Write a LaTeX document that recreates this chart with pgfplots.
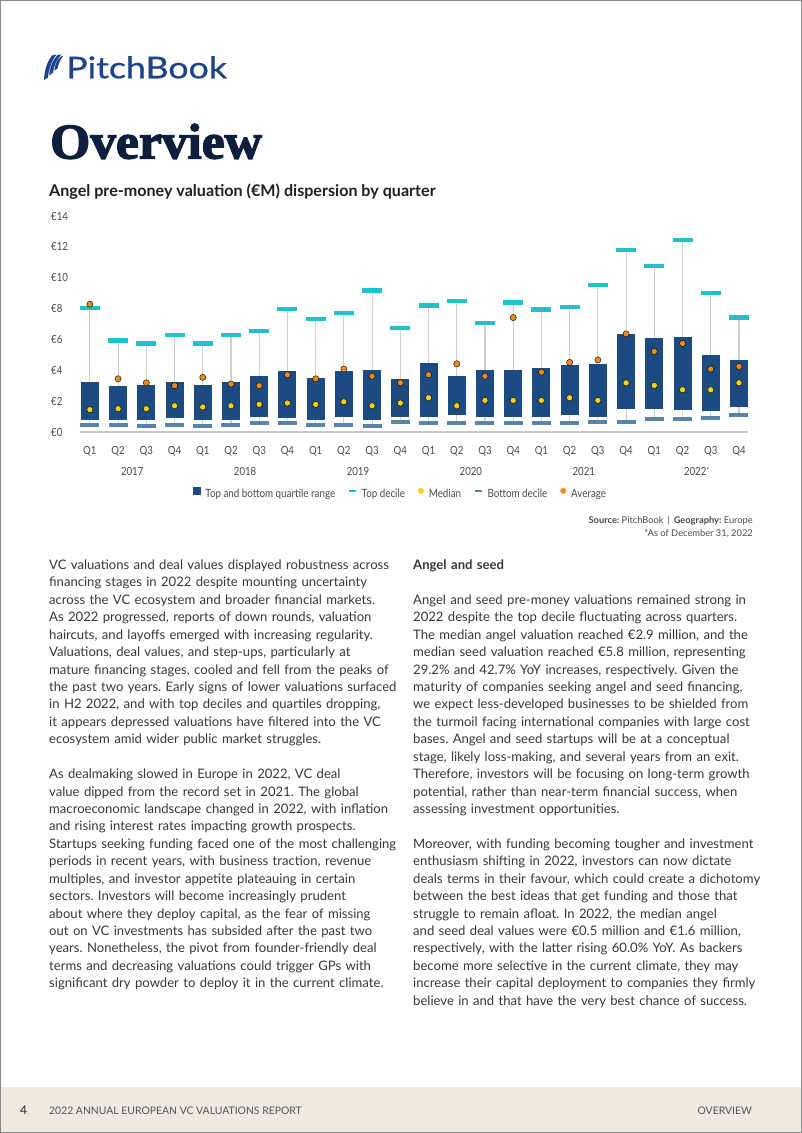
\documentclass[border=0pt]{standalone}
\usepackage{pgfplots}
\pgfplotsset{compat=1.18}
\usepackage{pgfplotstable}
\usepackage{fontspec}
\setmainfont{Lato}
\newfontfamily\cond{Lato}[FakeStretch=0.86]
\newfontfamily\logofont{Lato}[FakeBold=0.6]
\newfontfamily\headserif{Liberation Serif}[BoldFeatures={FakeBold=2.6}]
\definecolor{boxblue}{HTML}{1C4B82}
\definecolor{topc}{HTML}{22BFCC}
\definecolor{medc}{HTML}{F6CF16}
\definecolor{botc}{HTML}{5A83AA}
\definecolor{avgc}{HTML}{EE8A1D}
\definecolor{whisk}{HTML}{CFCFCF}
\definecolor{axisgray}{HTML}{C8C8C8}
\definecolor{labgray}{HTML}{4A4A4A}
\definecolor{bodytext}{HTML}{383838}
\definecolor{navy}{HTML}{0D1F3C}
\definecolor{logoblue}{HTML}{1D4489}
\definecolor{footbg}{HTML}{EFE9E0}
\definecolor{footgray}{HTML}{555555}
\definecolor{bordergray}{HTML}{8A8A8A}

\pgfplotstableread{
x bdec q1 med q3 tdec avg
0 0.47 0.80 1.45 3.24 8.02 8.28
1 0.47 0.80 1.51 2.96 5.93 3.45
2 0.39 0.80 1.51 3.06 5.74 3.19
3 0.47 0.91 1.70 3.24 6.28 3.00
4 0.39 0.80 1.62 3.06 5.74 3.54
5 0.47 0.80 1.70 3.24 6.28 3.11
6 0.58 0.99 1.79 3.60 6.56 3.00
7 0.58 0.91 1.88 3.93 7.96 3.71
8 0.47 0.80 1.79 3.49 7.33 3.45
9 0.47 0.99 1.96 3.93 7.70 4.08
10 0.39 0.80 1.70 4.03 9.17 3.62
11 0.67 0.99 1.88 3.41 6.73 3.19
12 0.58 0.99 2.22 4.47 8.20 3.71
13 0.58 1.08 1.70 3.60 8.48 4.42
14 0.58 0.99 2.05 4.03 7.05 3.62
15 0.58 0.99 2.05 4.03 8.39 7.42
16 0.58 0.99 2.05 4.12 7.94 3.88
17 0.58 1.08 2.22 4.34 8.11 4.51
18 0.67 0.99 2.05 4.40 9.53 4.68
19 0.67 1.51 3.19 6.32 11.82 6.36
20 0.84 1.51 3.02 6.08 10.76 5.22
21 0.84 1.42 2.74 6.17 12.42 5.74
22 0.93 1.34 2.74 5.00 8.99 4.08
23 1.08 1.60 3.19 4.66 7.42 4.25
}\data

\begin{document}
\frenchspacing
\begin{tikzpicture}[x=1pt,y=1pt]
\path[use as bounding box] (0,0) rectangle (802,-1133);
\fill[white] (0,0) rectangle (802,-1133);
\fill[footbg] (0,-1087) rectangle (802,-1133);
\draw[bordergray, line width=1.2pt] (0.6,-0.6) rectangle (801.4,-1132.4);

% logo
\fill[logoblue] (44,-80) .. controls (44.5,-70) and (47,-62) .. (52,-55.5) -- (56.5,-54.5) .. controls (51.5,-61) and (48.8,-69) .. (48,-77.5) -- cycle;
\fill[logoblue] (49.2,-75.5) .. controls (49.8,-67) and (52.5,-60.5) .. (57.5,-55) -- (61.5,-54.5) .. controls (56.5,-60) and (53.8,-66) .. (53,-72.5) -- cycle;
\fill[logoblue] (54.2,-70.5) .. controls (55,-64) and (57.5,-59) .. (61.8,-56) -- (63,-56) .. controls (60,-60) and (58.5,-64) .. (57.5,-68.5) -- cycle;
\node[anchor=base west, inner sep=0pt, text=logoblue, font=\logofont\fontsize{30}{30}\selectfont, xscale=1.19] at (66,-78.3) {PitchBook};

% title
\node[anchor=base west, inner sep=0pt, text=navy, font=\headserif\bfseries\fontsize{50}{50}\selectfont, xscale=1.03] at (50,-158.5) {Overview};
\node[anchor=base west, inner sep=0pt, text=black!88, font=\bfseries\fontsize{16.1}{18}\selectfont] at (49,-196.5) {Angel pre-money valuation (€M) dispersion by quarter};

\begin{axis}[
  at={(80pt,-432pt)}, anchor=south west,
  scale only axis, width=668pt, height=216pt,
  xmin=-0.35, xmax=23.32, ymin=0, ymax=14,
  clip=false,
  axis x line*=bottom, axis y line*=left,
  y axis line style={draw=none},
  x axis line style={draw=axisgray, line width=1.5pt},
  major tick length=0pt,
  ytick={0,2,4,6,8,10,12,14},
  yticklabels={€0,€2,€4,€6,€8,€10,€12,€14},
  yticklabel style={anchor=west, inner sep=0pt, xshift=-29pt, font=\cond\fontsize{11.2}{12}\selectfont, text=labgray},
  xtick={0,...,23},
  xticklabels={Q1,Q2,Q3,Q4,Q1,Q2,Q3,Q4,Q1,Q2,Q3,Q4,Q1,Q2,Q3,Q4,Q1,Q2,Q3,Q4,Q1,Q2,Q3,Q4},
  xticklabel style={anchor=north, inner sep=0pt, yshift=-14pt, font=\cond\fontsize{11.2}{12}\selectfont, text=labgray},
  legend columns=5,
  legend cell align=left,
  legend style={at={(axis description cs:0.4795,-0.287)}, anchor=center, draw=none, fill=none,
    font=\cond\fontsize{11.4}{12}\selectfont, text=labgray,
    /tikz/every odd column/.append style={column sep=3pt},
    /tikz/every even column/.append style={column sep=11pt}},
]
% whiskers
\addplot[draw=none, mark=none, forget plot,
  error bars/.cd, y dir=both, y explicit, error mark=none,
  error bar style={draw=whisk, line width=1.1pt}]
  table[x=x, y=q1, y error plus expr=\thisrow{tdec}-\thisrow{q1}, y error minus expr=\thisrow{q1}-\thisrow{bdec}] {\data};
% quartile boxes
\addplot[draw=none, mark=none, forget plot,
  error bars/.cd, y dir=plus, y explicit, error mark=none,
  error bar style={draw=boxblue, line width=18pt}]
  table[x=x, y=q1, y error plus expr=\thisrow{q3}-\thisrow{q1}] {\data};
% top decile
\addplot[only marks, forget plot, mark=-, mark size=10pt, mark options={draw=topc, line width=4.2pt}]
  table[x=x, y=tdec] {\data};
% bottom decile
\addplot[only marks, forget plot, mark=-, mark size=9.5pt, mark options={draw=botc, line width=4.2pt}]
  table[x=x, y=bdec] {\data};
% median
\addplot[only marks, forget plot, mark=*, mark size=3.1pt, mark options={fill=medc, draw=none}]
  table[x=x, y=med] {\data};
% average
\addplot[only marks, forget plot, mark=*, mark size=3.1pt, mark options={fill=avgc, draw=none}]
  table[x=x, y=avg] {\data};

\addlegendimage{legend image code/.code={\fill[boxblue] (0pt,-0.5pt) rectangle (7.5pt,7pt);}}
\addlegendentry{Top and bottom quartile range}
\addlegendimage{legend image code/.code={\draw[topc, line width=2pt] (0pt,3.2pt) -- (6.5pt,3.2pt);}}
\addlegendentry{Top decile}
\addlegendimage{legend image code/.code={\fill[medc] (3.5pt,3.2pt) circle (2.7pt);}}
\addlegendentry{Median}
\addlegendimage{legend image code/.code={\draw[botc, line width=2pt] (0pt,3.2pt) -- (6.5pt,3.2pt);}}
\addlegendentry{Bottom decile}
\addlegendimage{legend image code/.code={\fill[avgc] (3.5pt,3.2pt) circle (2.7pt);}}
\addlegendentry{Average}

\node[font=\cond\fontsize{11.2}{12}\selectfont, text=labgray, yshift=-39pt] at (axis cs:1.5,0) {2017};
\node[font=\cond\fontsize{11.2}{12}\selectfont, text=labgray, yshift=-39pt] at (axis cs:5.5,0) {2018};
\node[font=\cond\fontsize{11.2}{12}\selectfont, text=labgray, yshift=-39pt] at (axis cs:9.5,0) {2019};
\node[font=\cond\fontsize{11.2}{12}\selectfont, text=labgray, yshift=-39pt] at (axis cs:13.5,0) {2020};
\node[font=\cond\fontsize{11.2}{12}\selectfont, text=labgray, yshift=-39pt] at (axis cs:17.5,0) {2021};
\node[font=\cond\fontsize{11.2}{12}\selectfont, text=labgray, yshift=-39pt] at (axis cs:21.5,0) {2022{\fontsize{8}{8}\selectfont\raisebox{1.5pt}{*}}};
\end{axis}

% source
\node[anchor=base east, inner sep=0pt, text=labgray, font=\fontsize{9.3}{11}\selectfont] at (753,-523.8) {\textbf{Source:} PitchBook \,|\, \textbf{Geography:} Europe};
\node[anchor=base east, inner sep=0pt, text=labgray, font=\fontsize{9.3}{11}\selectfont] at (753,-536) {*As of December 31, 2022};

% body text
\node[anchor=base west, inner sep=0pt, text width=400pt, align=left, text=bodytext, font=\fontsize{13.1}{17.43}\selectfont] at (49,-569.5) {%
VC valuations and deal values displayed robustness across\\
financing stages in 2022 despite mounting uncertainty\\
across the VC ecosystem and broader financial markets.\\
As 2022 progressed, reports of down rounds, valuation\\
haircuts, and layoffs emerged with increasing regularity.\\
Valuations, deal values, and step-ups, particularly at\\
mature financing stages, cooled and fell from the peaks of\\
the past two years. Early signs of lower valuations surfaced\\
in H2 2022, and with top deciles and quartiles dropping,\\
it appears depressed valuations have filtered into the VC\\
ecosystem amid wider public market struggles.\\[17.43pt]
As dealmaking slowed in Europe in 2022, VC deal\\
value dipped from the record set in 2021. The global\\
macroeconomic landscape changed in 2022, with inflation\\
and rising interest rates impacting growth prospects.\\
Startups seeking funding faced one of the most challenging\\
periods in recent years, with business traction, revenue\\
multiples, and investor appetite plateauing in certain\\
sectors. Investors will become increasingly prudent\\
about where they deploy capital, as the fear of missing\\
out on VC investments has subsided after the past two\\
years. Nonetheless, the pivot from founder-friendly deal\\
terms and decreasing valuations could trigger GPs with\\
significant dry powder to deploy it in the current climate.};

\node[anchor=base west, inner sep=0pt, text width=400pt, align=left, text=bodytext, font=\fontsize{13.1}{17.43}\selectfont] at (413,-569.5) {%
\textbf{Angel and seed}\\[17.43pt]
Angel and seed pre-money valuations remained strong in\\
2022 despite the top decile fluctuating across quarters.\\
The median angel valuation reached €2.9 million, and the\\
median seed valuation reached €5.8 million, representing\\
29.2\% and 42.7\% YoY increases, respectively. Given the\\
maturity of companies seeking angel and seed financing,\\
we expect less-developed businesses to be shielded from\\
the turmoil facing international companies with large cost\\
bases. Angel and seed startups will be at a conceptual\\
stage, likely loss-making, and several years from an exit.\\
Therefore, investors will be focusing on long-term growth\\
potential, rather than near-term financial success, when\\
assessing investment opportunities.\\[17.43pt]
Moreover, with funding becoming tougher and investment\\
enthusiasm shifting in 2022, investors can now dictate\\
deals terms in their favour, which could create a dichotomy\\
between the best ideas that get funding and those that\\
struggle to remain afloat. In 2022, the median angel\\
and seed deal values were €0.5 million and €1.6 million,\\
respectively, with the latter rising 60.0\% YoY. As backers\\
become more selective in the current climate, they may\\
increase their capital deployment to companies they firmly\\
believe in and that have the very best chance of success.};

% footer
\node[anchor=base west, inner sep=0pt, text=black!85, font=\fontsize{12}{12}\selectfont] at (20,-1114) {4};
\node[anchor=base west, inner sep=0pt, text=footgray, font=\fontsize{10.4}{12}\selectfont] at (49,-1114) {2022 ANNUAL EUROPEAN VC VALUATIONS REPORT};
\node[anchor=base east, inner sep=0pt, text=footgray, font=\fontsize{10.4}{12}\selectfont] at (752,-1114) {OVERVIEW};
\end{tikzpicture}
\end{document}
